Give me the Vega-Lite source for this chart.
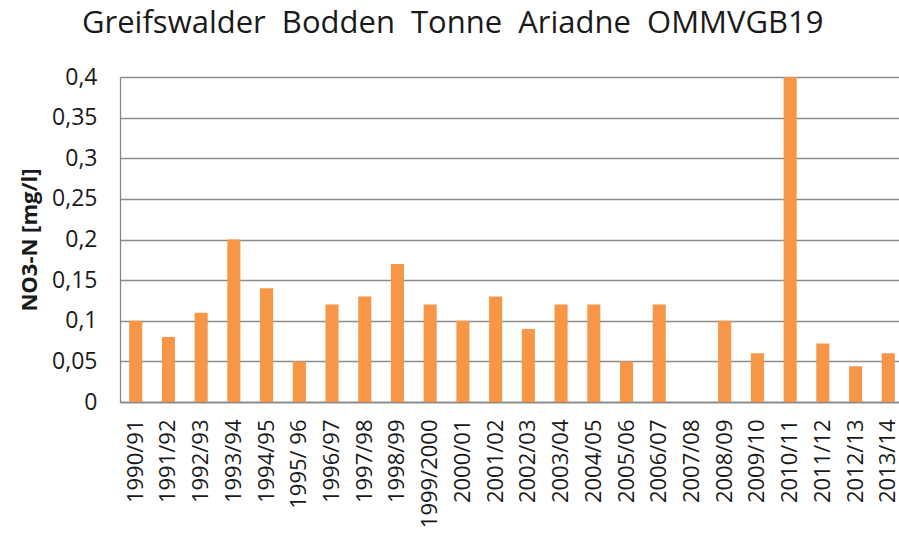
{
  "$schema": "https://vega.github.io/schema/vega-lite/v6.json",
  "width": 784,
  "height": 325,
  "autosize": {"type": "none"},
  "padding": {"left": 120, "top": 77, "right": 0, "bottom": 133},
  "background": "white",
  "title": {
    "text": "Greifswalder\u00a0 Bodden\u00a0 Tonne\u00a0 Ariadne\u00a0 OMMVGB19",
    "anchor": "start",
    "frame": "group",
    "dx": -38,
    "offset": 2,
    "baseline": "alphabetic",
    "font": "Open Sans",
    "fontSize": 31,
    "fontWeight": "normal",
    "color": "#1a1a1a"
  },
  "config": {
    "view": {"stroke": null},
    "axis": {"labelFont": "Open Sans", "titleFont": "Open Sans", "labelColor": "#1a1a1a", "titleColor": "#1a1a1a"}
  },
  "data": {
    "values": [
      {"season": "1990/91", "value": 0.1},
      {"season": "1991/92", "value": 0.08},
      {"season": "1992/93", "value": 0.11},
      {"season": "1993/94", "value": 0.2},
      {"season": "1994/95", "value": 0.14},
      {"season": "1995/ 96", "value": 0.05},
      {"season": "1996/97", "value": 0.12},
      {"season": "1997/98", "value": 0.13},
      {"season": "1998/99", "value": 0.17},
      {"season": "1999/2000", "value": 0.12},
      {"season": "2000/01", "value": 0.1},
      {"season": "2001/02", "value": 0.13},
      {"season": "2002/03", "value": 0.09},
      {"season": "2003/04", "value": 0.12},
      {"season": "2004/05", "value": 0.12},
      {"season": "2005/06", "value": 0.05},
      {"season": "2006/07", "value": 0.12},
      {"season": "2007/08", "value": null},
      {"season": "2008/09", "value": 0.1},
      {"season": "2009/10", "value": 0.06},
      {"season": "2010/11", "value": 0.4},
      {"season": "2011/12", "value": 0.072},
      {"season": "2012/13", "value": 0.044},
      {"season": "2013/14", "value": 0.06}
    ]
  },
  "mark": {"type": "bar", "color": "#F79646"},
  "encoding": {
    "x": {
      "field": "season",
      "type": "nominal",
      "sort": null,
      "scale": {
        "domain": ["1990/91", "1991/92", "1992/93", "1993/94", "1994/95", "1995/ 96", "1996/97", "1997/98", "1998/99", "1999/2000", "2000/01", "2001/02", "2002/03", "2003/04", "2004/05", "2005/06", "2006/07", "2007/08", "2008/09", "2009/10", "2010/11", "2011/12", "2012/13", "2013/14"],
        "paddingInner": 0.6,
        "paddingOuter": 0.28
      },
      "axis": {
        "title": null,
        "labelAngle": -90,
        "labelFontSize": 22,
        "labelPadding": 17,
        "labelOverlap": false,
        "ticks": false,
        "domainColor": "#868686",
        "domainWidth": 1.5
      }
    },
    "y": {
      "field": "value",
      "type": "quantitative",
      "scale": {"domain": [0, 0.4]},
      "axis": {
        "title": "NO3-N [mg/l]",
        "titleFontSize": 22,
        "titleFontWeight": "bold",
        "titlePadding": 10,
        "values": [0, 0.05, 0.1, 0.15, 0.2, 0.25, 0.3, 0.35, 0.4],
        "labelExpr": "replace(toString(datum.value), '.', ',')",
        "labelFontSize": 23,
        "labelPadding": 23,
        "ticks": false,
        "grid": true,
        "gridColor": "#8c8c8c",
        "gridWidth": 1.3,
        "domainColor": "#868686",
        "domainWidth": 1.3
      }
    }
  }
}
